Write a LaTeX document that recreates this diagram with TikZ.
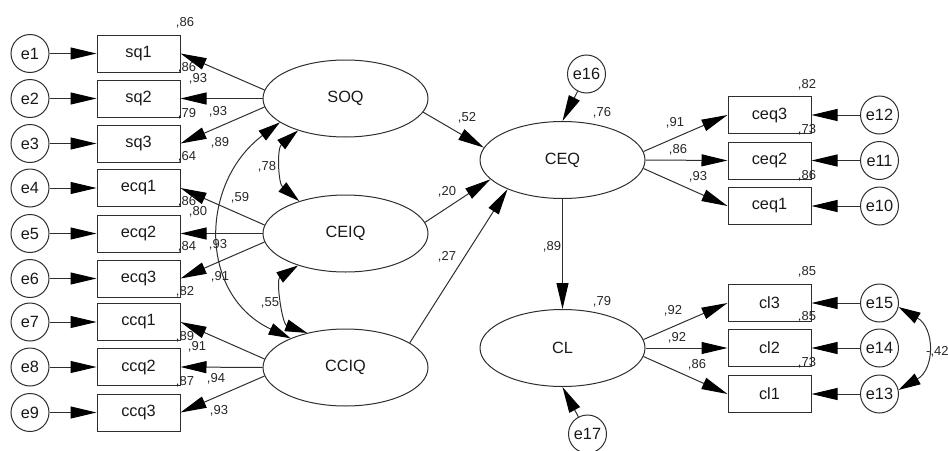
\documentclass[tikz,border=0pt]{standalone}
\usepackage{fontspec}
\setmainfont{Liberation Sans}
\usetikzlibrary{arrows.meta,shapes.geometric}
\begin{document}
\begin{tikzpicture}[x=1pt,y=1pt]
\tikzset{
 lbl/.style={font=\fontsize{16.3}{18}\selectfont,text=black!90},
 lat/.style={ellipse,draw=black!82,line width=1pt,minimum width=165pt,minimum height=77pt,inner sep=0pt,lbl},
 obs/.style={rectangle,draw=black!82,line width=1pt,minimum width=83pt,minimum height=37pt,inner sep=0pt,lbl},
 err/.style={circle,draw=black!82,line width=1pt,minimum size=38pt,inner sep=0pt,lbl},
 num/.style={inner sep=0pt,font=\fontsize{13}{15}\selectfont,text=black!85},
 reg/.style={draw=black!82,line width=1pt,-{Triangle[length=26pt,width=12pt,color=black]}},
 covar/.style={draw=black!82,line width=1pt,{Triangle[length=22pt,width=12pt,color=black]}-{Triangle[length=22pt,width=12pt,color=black]}},
}
\useasboundingbox (0,0) rectangle (948,-450);
% left indicators
\foreach \e/\b/\t/\y in {e1/sq1/sq1/53.5, e2/sq2/sq2/98.5, e3/sq3/sq3/143.5,
  e4/ecq1/ecq1/188, e5/ecq2/ecq2/233.5, e6/ecq3/ecq3/278.5,
  e7/ccq1/ccq1/322, e8/ccq2/ccq2/367, e9/ccq3/ccq3/412.5}{
  \node[err] (\e) at (30,-\y) {\e};
  \node[obs] (\b) at (138.5,-\y) {\t};
  \draw[reg] (\e) -- (\b);
}
% right indicators
\foreach \e/\b/\y in {e12/ceq3/115, e11/ceq2/160.5, e10/ceq1/206,
  e15/cl3/303, e14/cl2/348, e13/cl1/394}{
  \node[err] (\e) at (879.5,-\y) {\e};
  \node[obs] (\b) at (769.5,-\y) {\b};
  \draw[reg] (\e) -- (\b);
}
% latents
\node[lat] (SOQ) at (345.5,-98.5) {SOQ};
\node[lat] (CEIQ) at (345.5,-233.5) {CEIQ};
\node[lat] (CCIQ) at (345.5,-367.5) {CCIQ};
\node[lat] (CEQ) at (562.5,-160) {CEQ};
\node[lat] (CL) at (562.5,-348) {CL};
\node[err] (e16) at (586.5,-74) {e16};
\node[err] (e17) at (587.5,-434) {e17};
% loadings
\foreach \L/\a/\b/\c in {SOQ/sq1/sq2/sq3, CEIQ/ecq1/ecq2/ecq3, CCIQ/ccq1/ccq2/ccq3}{
  \draw[reg] (\L.174) -- (\a.east);
  \draw[reg] (\L.180) -- (\b.east);
  \draw[reg] (\L.186) -- (\c.east);
}
\draw[reg] (CEQ.6) -- (ceq3.west);
\draw[reg] (CEQ.0) -- (ceq2.west);
\draw[reg] (CEQ.-6) -- (ceq1.west);
\draw[reg] (CL.6) -- (cl3.west);
\draw[reg] (CL.0) -- (cl2.west);
\draw[reg] (CL.-6) -- (cl1.west);
% structural paths
\draw[reg] (SOQ.-10) -- (CEQ.171);
\draw[reg] (CEIQ.8) -- (CEQ.195);
\draw[reg] (CCIQ.21) -- (CEQ.208);
\draw[reg] (CEQ.south) -- (CL.north);
\draw[reg] (e16) -- (CEQ.north);
\draw[reg] (e17) -- (CL.south);
% covariances
\draw[covar] (SOQ.214) to[out=220,in=140] (CEIQ.145);
\draw[covar] (SOQ.200) to[out=217,in=155,looseness=1.2] (CCIQ.152);
\draw[covar] (CEIQ.214) to[out=213,in=160] (CCIQ.138);
\draw[covar] (e15.-12) to[out=-30,in=30,looseness=1.3] (e13.12);
% numbers left
\node[num] (r1) at (185,-23) {,86};
\node[num] (r2) at (187,-68) {,86};
\node[num] (l1) at (198,-79) {,93};
\node[num] (r3) at (187,-114) {,79};
\node[num] (l2) at (218,-112) {,93};
\node[num] (l3) at (220,-143) {,89};
\node[num] (r4) at (187,-157) {,64};
\node[num] (r5) at (187,-202) {,86};
\node[num] (l4) at (198,-212) {,80};
\node[num] (r6) at (187,-247) {,84};
\node[num] (l5) at (218,-245) {,93};
\node[num] (l6) at (220,-277) {,91};
\node[num] (r7) at (185,-292) {,82};
\node[num] (r8) at (185,-337) {,89};
\node[num] (l7) at (197,-347) {,91};
\node[num] (r9) at (185,-382) {,87};
\node[num] (l8) at (216,-379) {,94};
\node[num] (l9) at (219,-411) {,93};
\node[num] (c1) at (267,-167) {,78};
\node[num] (c2) at (240,-198) {,59};
\node[num] (c3) at (270,-303) {,55};
% structural numbers
\node[num] (s1) at (467,-118) {,52};
\node[num] (s2) at (447,-192) {,20};
\node[num] (s3) at (447,-257) {,27};
\node[num] (s4) at (552,-247) {,89};
\node[num] (s5) at (602,-113) {,76};
\node[num] (s6) at (602,-302) {,79};
% numbers right
\node[num] (m1) at (675,-123) {,91};
\node[num] (m2) at (678,-150) {,86};
\node[num] (m3) at (698,-177) {,93};
\node[num] (q1) at (807,-85) {,82};
\node[num] (q2) at (807,-130) {,73};
\node[num] (q3) at (807,-176) {,86};
\node[num] (m4) at (673,-311) {,92};
\node[num] (m5) at (677,-338) {,92};
\node[num] (m6) at (697,-365) {,86};
\node[num] (q4) at (807,-272) {,85};
\node[num] (q5) at (807,-317) {,85};
\node[num] (q6) at (807,-363) {,73};
\node[num,anchor=west] (c4) at (926,-352) {-,42};
\end{tikzpicture}
\end{document}
